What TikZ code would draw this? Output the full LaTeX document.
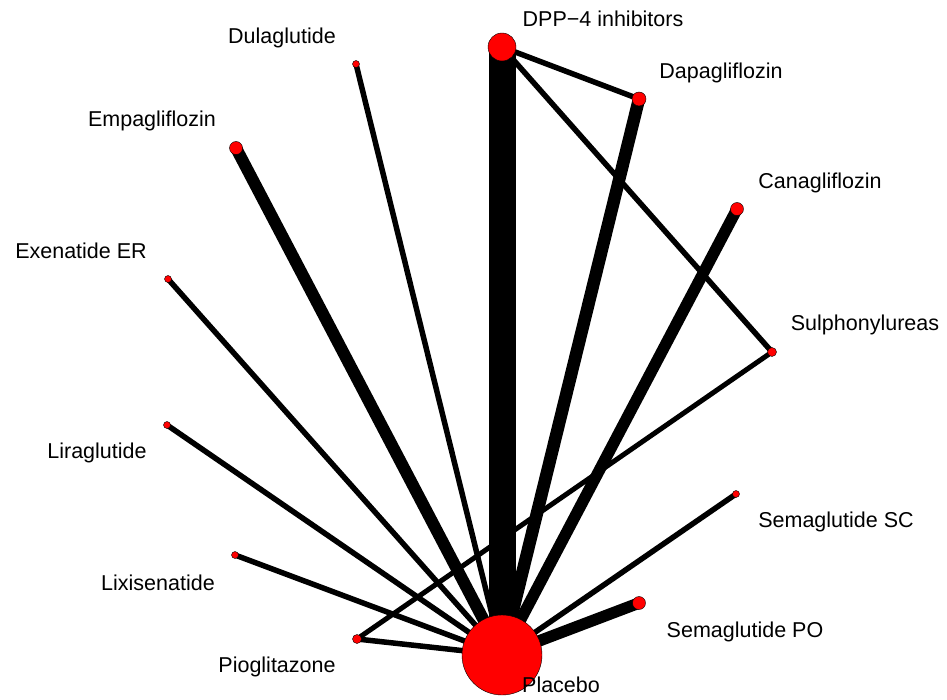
\documentclass[tikz,border=0pt]{standalone}
\usepackage{fontspec}
\setmainfont{Liberation Sans}
\begin{document}
\begin{tikzpicture}[x=1pt,y=-1pt,
  vtx/.style={circle,fill=red,draw=black,line width=0.4pt,inner sep=0pt},
  lab/.style={font=\fontsize{21.5}{25}\selectfont,inner sep=0pt,anchor=center},
  edge/.style={draw=black,line cap=round},
  thin/.style={edge,line width=5.5pt},
  mid/.style={edge,line width=11.5pt}]
\useasboundingbox (0,0) rectangle (947,700);
% vertex positions
\coordinate (cP) at (502,655);
\coordinate (cDPP) at (502,47);
\coordinate (cDapa) at (639,99);
\coordinate (cCana) at (737,209);
\coordinate (cSulf) at (772,352);
\coordinate (cSSC) at (736,494);
\coordinate (cSPO) at (639,603);
\coordinate (cPio) at (357,639);
\coordinate (cLix) at (235,555);
\coordinate (cLira) at (167,425);
\coordinate (cExe) at (168,279);
\coordinate (cEmpa) at (236,148);
\coordinate (cDula) at (356,64);
% edges
\draw[edge,line width=27pt,line cap=butt] (cP) -- (cDPP);
\draw[mid,line width=12.5pt] (cP) -- (cDapa);
\draw[mid] (cP) -- (cCana);
\draw[thin] (cP) -- (cSSC);
\draw[mid] (cP) -- (cSPO);
\draw[thin] (cP) -- (cPio);
\draw[thin] (cP) -- (cLix);
\draw[thin] (cP) -- (cLira);
\draw[thin] (cP) -- (cExe);
\draw[mid,line width=12pt] (cP) -- (cEmpa);
\draw[thin] (cP) -- (cDula);
\draw[thin] (cDPP) -- (cDapa);
\draw[thin] (cDPP) -- (cSulf);
\draw[thin,line width=5pt] (cPio) -- (cSulf);
% vertices
\node[vtx,minimum size=80pt] (P) at (cP) {};
\node[vtx,minimum size=28pt] (DPP) at (cDPP) {};
\node[vtx,minimum size=14pt] (Dapa) at (cDapa) {};
\node[vtx,minimum size=13pt] (Cana) at (cCana) {};
\node[vtx,minimum size=9pt] (Sulf) at (cSulf) {};
\node[vtx,minimum size=7pt] (SSC) at (cSSC) {};
\node[vtx,minimum size=13pt] (SPO) at (cSPO) {};
\node[vtx,minimum size=9pt] (Pio) at (cPio) {};
\node[vtx,minimum size=7pt] (Lix) at (cLix) {};
\node[vtx,minimum size=7pt] (Lira) at (cLira) {};
\node[vtx,minimum size=7pt] (Exe) at (cExe) {};
\node[vtx,minimum size=13pt] (Empa) at (cEmpa) {};
\node[vtx,minimum size=7pt] (Dula) at (cDula) {};
% labels
\node[lab] (lDPP) at (603,19) {DPP−4 inhibitors};
\node[lab] (lDapa) at (721,73) {Dapagliflozin};
\node[lab] (lCana) at (820,183) {Canagliflozin};
\node[lab] (lSulf) at (865,325) {Sulphonylureas};
\node[lab] (lSSC) at (836,522) {Semaglutide SC};
\node[lab] (lSPO) at (745,632) {Semaglutide PO};
\node[lab] (lP) at (561,685) {Placebo};
\node[lab] (lPio) at (277,667) {Pioglitazone};
\node[lab] (lLix) at (158,583) {Lixisenatide};
\node[lab] (lLira) at (97,453) {Liraglutide};
\node[lab] (lExe) at (81,251) {Exenatide ER};
\node[lab] (lEmpa) at (152,121) {Empagliflozin};
\node[lab] (lDula) at (282,38) {Dulaglutide};
\end{tikzpicture}
\end{document}
